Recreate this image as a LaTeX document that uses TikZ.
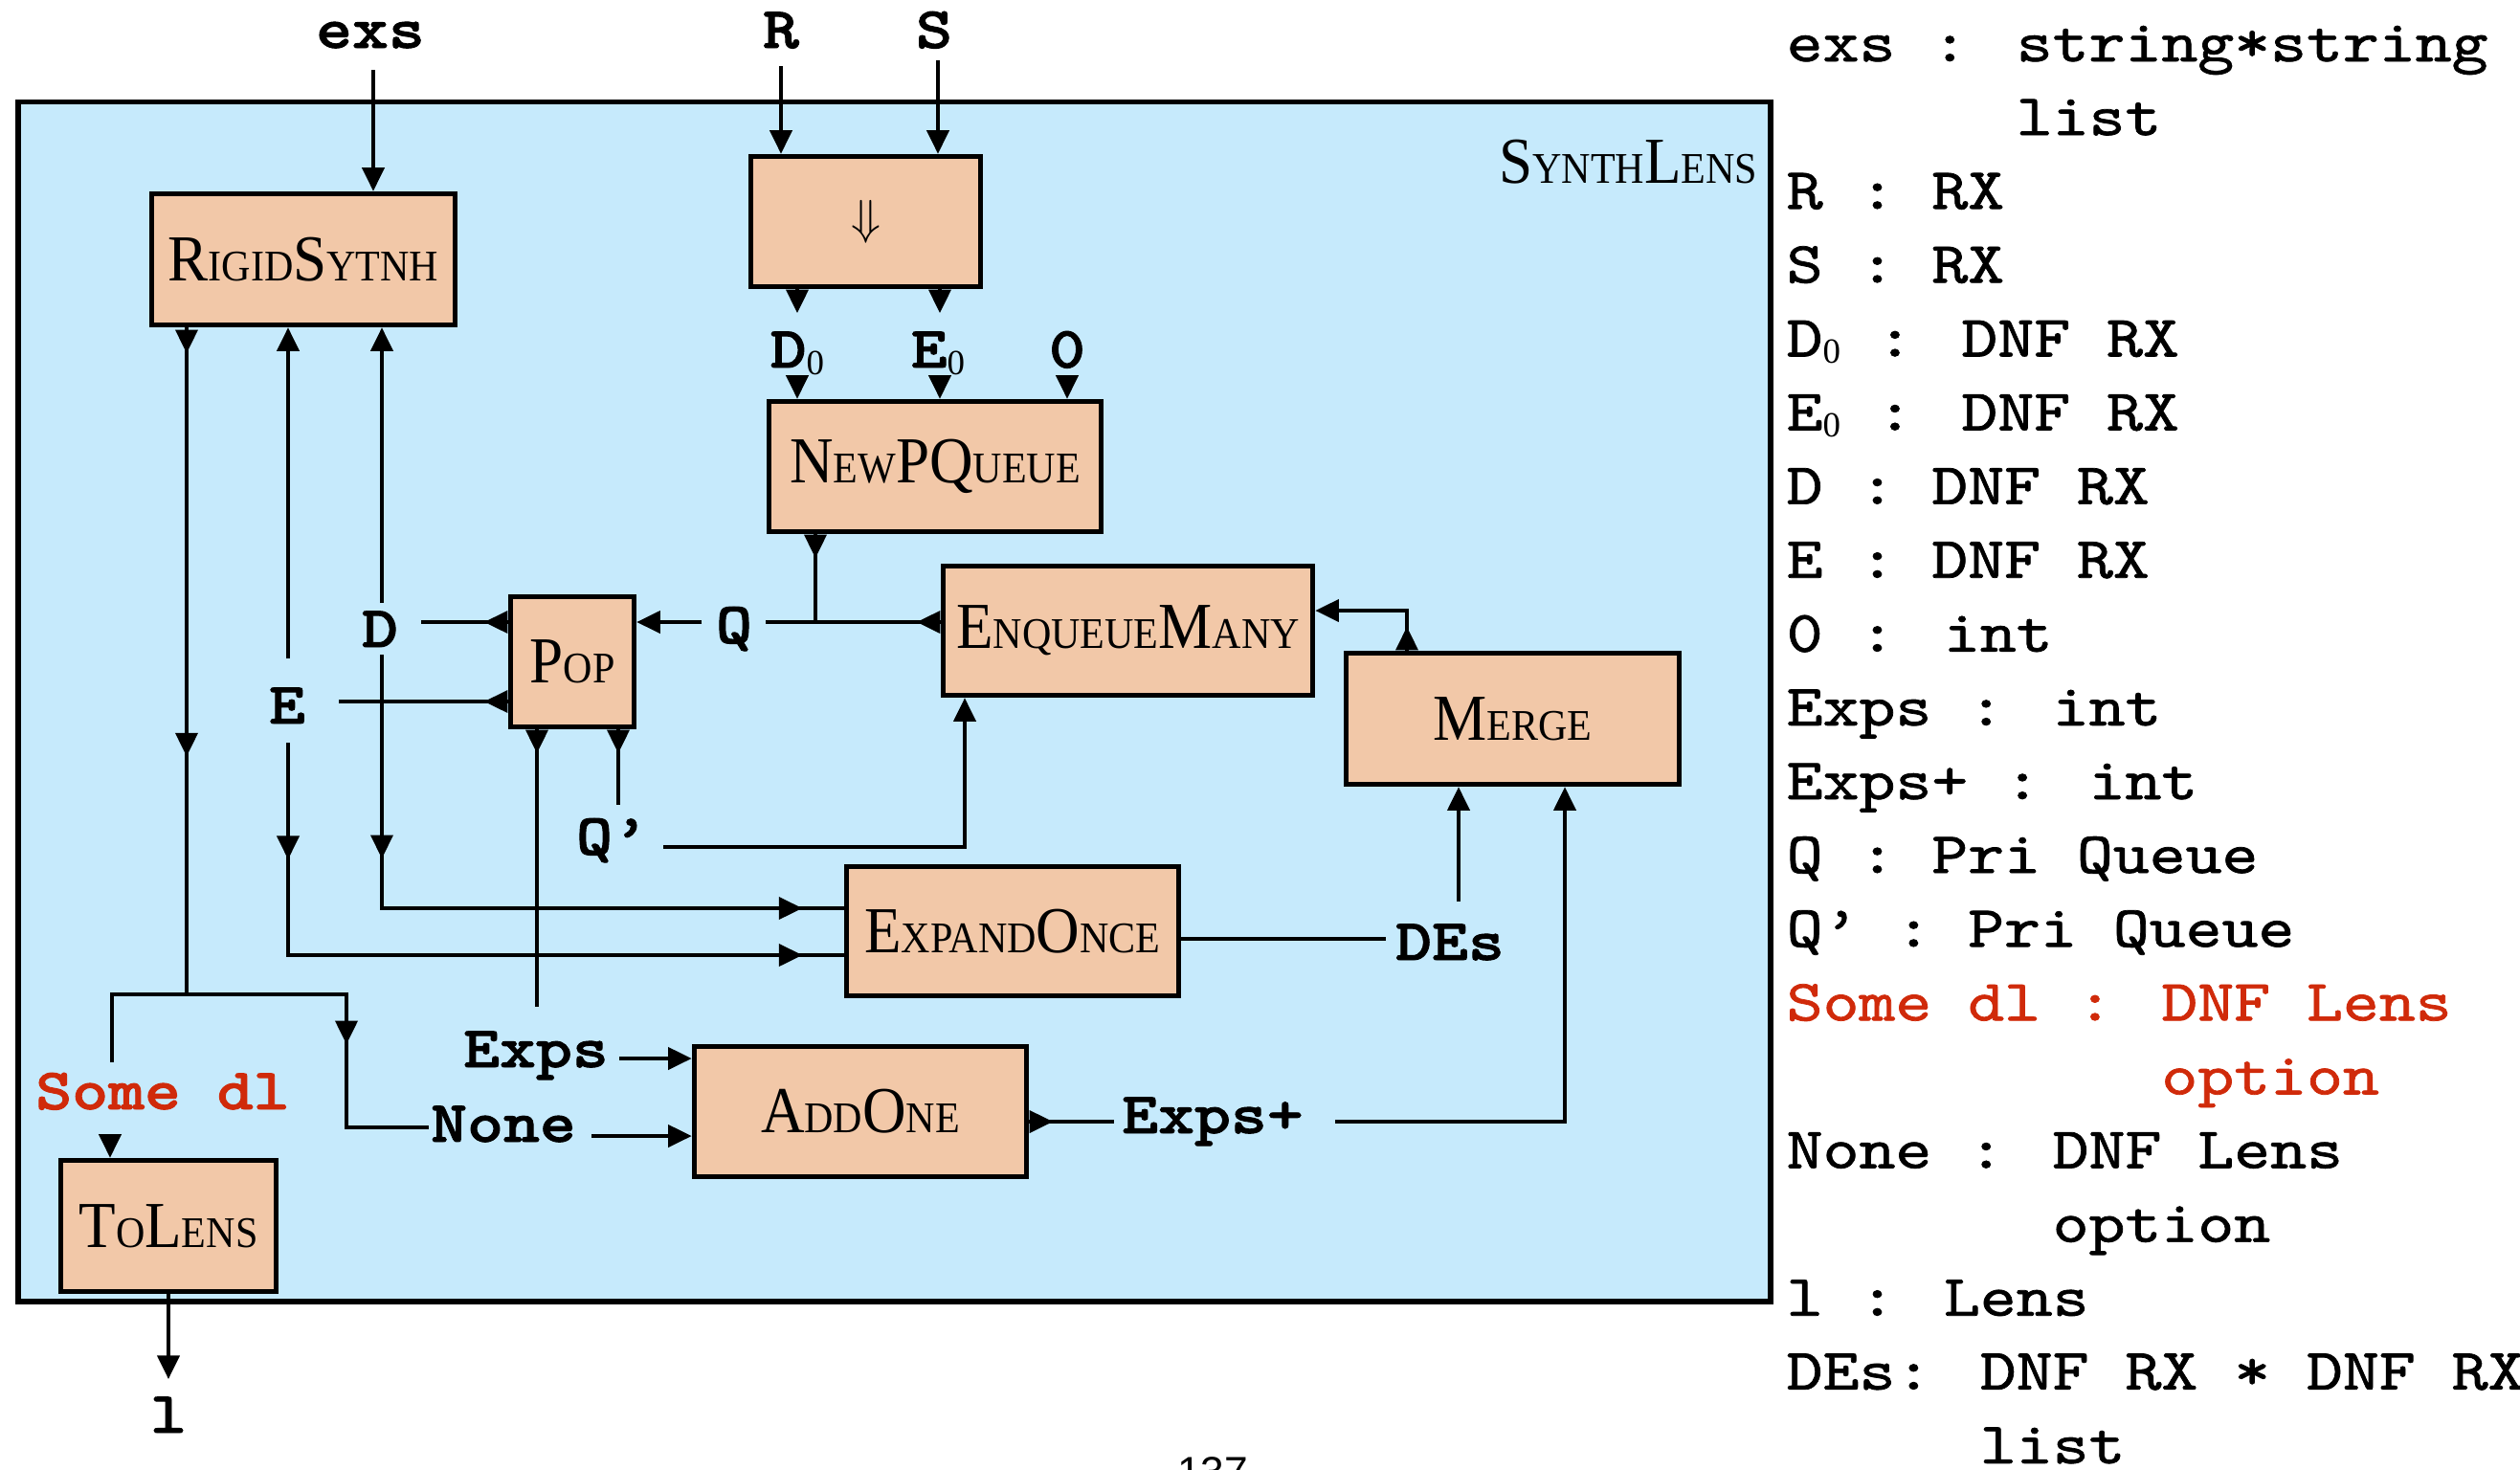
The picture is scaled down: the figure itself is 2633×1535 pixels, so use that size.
\documentclass[tikz,border=0pt]{standalone}
\usepackage{fontspec}
\usetikzlibrary{arrows.meta,decorations.markings,calc}
\newfontfamily\labfam{lmmonolt10-bold}[Extension=.otf, FakeStretch=1.18, FakeBold=1.5]
\newfontfamily\rcolfam{lmmono10-regular}[Extension=.otf, FakeStretch=1.18, FakeBold=1.2]
\newfontfamily\boxfam{Liberation Serif}[FakeStretch=0.92]
\newfontfamily\subfam{Liberation Serif}
\newfontfamily\pgfam{Liberation Sans}
\definecolor{peach}{RGB}{242,200,168}
\definecolor{skyb}{RGB}{198,234,252}
\definecolor{redt}{RGB}{208,42,10}
\newcommand\bigc{\fontsize{19.5}{21}\selectfont}
\newcommand\smallc{\fontsize{13}{14}\selectfont}
\newcommand\mysc[2]{{\bigc #1}{\smallc #2}}
\newcommand\zsub{\raisebox{-2pt}{\subfam\fontsize{10.5}{11}\selectfont 0}}
\begin{document}
\begin{tikzpicture}[x=0.01cm,y=-0.01cm,
  blk/.style={draw=black, line width=1.5pt, fill=peach, inner sep=0pt, font=\boxfam},
  conn/.style={line width=1.2pt, draw=black},
  arr/.style={conn, -{Triangle[length=7pt,width=6.5pt]}},
  lbl/.style={font=\labfam\fontsize{17.4}{20}\selectfont, inner sep=0pt, anchor=base},
  rcol/.style={font=\rcolfam\fontsize{17.4}{20}\selectfont, inner sep=0pt, anchor=base west},
  midarr/.style={postaction={decorate,decoration={markings,mark=at position #1 with {\arrow{Triangle[length=7pt,width=6.5pt]}}}}},
  twoarr/.style 2 args={postaction={decorate,decoration={markings,
     mark=at position #1 with {\arrow{Triangle[length=7pt,width=6.5pt]}},
     mark=at position #2 with {\arrow{Triangle[length=7pt,width=6.5pt]}}}}}
]
\useasboundingbox (0,0) rectangle (2633,1535);
% outer box
\node[draw=black, line width=1.5pt, fill=skyb, minimum width=18.30cm, minimum height=12.53cm, inner sep=0pt] (outer) at (934.5,733) {};
\node[font=\boxfam, anchor=base east, inner sep=0pt] (synth) at (1837,191) {\mysc{S}{YNTH}\mysc{L}{ENS}};
% boxes
\node[blk, minimum width=3.17cm, minimum height=1.37cm] (rs) at (317,271) {\mysc{R}{IGID}\mysc{S}{YTNH}};
\node[blk, minimum width=2.40cm, minimum height=1.36cm] (dn) at (904.5,231.5) {\fontsize{15}{17}\selectfont\raisebox{-0.08cm}{$\Downarrow$}};
\node[blk, minimum width=3.47cm, minimum height=1.36cm] (npq) at (977,487.5) {\mysc{N}{EW}\mysc{PQ}{UEUE}};
\node[blk, minimum width=3.86cm, minimum height=1.35cm] (enq) at (1178.5,659) {\mysc{E}{NQUEUE}\mysc{M}{ANY}};
\node[blk, minimum width=1.29cm, minimum height=1.36cm] (pop) at (598,691.5) {\mysc{P}{OP}};
\node[blk, minimum width=3.48cm, minimum height=1.37cm] (mrg) at (1580.5,751) {\mysc{M}{ERGE}};
\node[blk, minimum width=3.47cm, minimum height=1.35cm] (exo) at (1058,973) {\mysc{E}{XPAND}\mysc{O}{NCE}};
\node[blk, minimum width=3.47cm, minimum height=1.36cm] (add) at (899,1161.5) {\mysc{A}{DD}\mysc{O}{NE}};
\node[blk, minimum width=2.25cm, minimum height=1.37cm] (tol) at (176,1281) {\mysc{T}{O}\mysc{L}{ENS}};
% labels
\node[lbl] (lexs) at (387,50) {exs};
\node[lbl] (lR) at (816,50) {R};
\node[lbl] (lS) at (976,50) {S};
\node[lbl] (lD0) at (833,384) {D\zsub};
\node[lbl] (lE0) at (980,384) {E\zsub};
\node[lbl] (lZ) at (1115,384) {0};
\node[lbl] (lD) at (397,676) {D};
\node[lbl] (lE) at (300,756) {E};
\node[lbl] (lQ) at (767,672) {Q};
\node[lbl] (lQp) at (640,893) {Q’};
\node[lbl] (lExps) at (560,1115) {Exps};
\node[lbl] (lNone) at (526,1193) {None};
\node[lbl, text=redt] (lSome) at (170,1159) {Some dl};
\node[lbl] (lDEs) at (1515,1003) {DEs};
\node[lbl] (lExpp) at (1267,1184) {Exps+};
\node[lbl] (ll) at (176,1497) {l};
\node[font=\pgfam\fontsize{12.6}{14}\selectfont, inner sep=0pt, anchor=base] (pg) at (1267,1553) {137};
% coordinates
\coordinate (exsA) at (390,73);
\coordinate (rA) at (816,69);
\coordinate (sA) at (980,63);
\coordinate (d0t) at (833,392);
\coordinate (e0t) at (982,392);
\coordinate (zt) at (1115,392);
\coordinate (qj) at (852,650);
\coordinate (qL) at (800,650);
\coordinate (qP) at (733,650);
\coordinate (dR) at (440,650);
\coordinate (eR) at (354,733);
\coordinate (dUp) at (399,630);
\coordinate (dDn) at (399,684);
\coordinate (dc) at (399,949);
\coordinate (eUp) at (301,688);
\coordinate (eDn) at (301,776);
\coordinate (ec) at (301,998);
\coordinate (rsj) at (195,1039);
\coordinate (slj) at (117,1039);
\coordinate (slEnd) at (117,1110);
\coordinate (nc) at (362,1039);
\coordinate (ncb) at (362,1178);
\coordinate (nEnd) at (448,1178);
\coordinate (sdA) at (115,1185);
\coordinate (lA) at (176,1441);
\coordinate (expsTop) at (561,1052);
\coordinate (qpTop) at (646,841);
\coordinate (exA) at (647,1106);
\coordinate (noA) at (618,1187);
\coordinate (qpL) at (693,885);
\coordinate (qpc) at (1008,885);
\coordinate (mc) at (1470,638);
\coordinate (deL) at (1448,981);
\coordinate (deA) at (1524,942);
\coordinate (epL) at (1164,1172);
\coordinate (epR) at (1395,1172);
\coordinate (epc) at (1635,1172);
% connectors
\draw[arr] (exsA) -- (rs.north -| exsA);
\draw[arr] (rA) -- (dn.north -| rA);
\draw[arr] (sA) -- (dn.north -| sA);
\draw[arr] (dn.south -| d0t) -- ++(0,25);
\draw[arr] (dn.south -| e0t) -- ++(0,25);
\draw[arr] (d0t) -- (npq.north -| d0t);
\draw[arr] (e0t) -- (npq.north -| e0t);
\draw[arr] (zt) -- (npq.north -| zt);
\draw[conn] (npq.south -| qj) -- (qj);
\draw[arr] (npq.south -| qj) -- ++(0,25);
\draw[conn] (qL) -- (enq.west |- qL);
\draw[arr] (enq.west |- qL) -- ++(-25,0);
\draw[arr] (qP) -- (pop.east |- qP);
\draw[conn] (pop.west |- dR) -- (dR);
\draw[arr] (pop.west |- dR) -- ++(-25,0);
\draw[conn] (pop.west |- eR) -- (eR);
\draw[arr] (pop.west |- eR) -- ++(-25,0);
\draw[arr] (dUp) -- (rs.south -| dUp);
\draw[arr] (eUp) -- (rs.south -| eUp);
\draw[conn, twoarr={2.13cm}{7.04cm}] (dDn) -- (dc) -- (exo.west |- dc);
\draw[conn, twoarr={1.22cm}{7.59cm}] (eDn) -- (ec) -- (exo.west |- ec);
\draw[conn, midarr=4.48cm] (rs.south -| rsj) -- (rsj);
\draw[arr] (rs.south -| rsj) -- ++(0,27);
\draw[conn, midarr=3.68cm] (slEnd) -- (slj) -- (nc) -- (ncb) -- (nEnd);
\draw[arr] (sdA) -- (tol.north -| sdA);
\draw[arr] (tol.south -| lA) -- (lA);
\draw[conn] (pop.south -| expsTop) -- (expsTop);
\draw[arr] (pop.south -| expsTop) -- ++(0,25);
\draw[conn] (pop.south -| qpTop) -- (qpTop);
\draw[arr] (pop.south -| qpTop) -- ++(0,25);
\draw[arr] (exA) -- (add.west |- exA);
\draw[arr] (noA) -- (add.west |- noA);
\draw[arr] (qpL) -- (qpc) -- (enq.south -| qpc);
\draw[arr] (mrg.north -| mc) -- (mc) -- (enq.east |- mc);
\draw[arr] (mrg.north -| mc) -- ++(0,-25);
\draw[conn] (exo.east |- deL) -- (deL);
\draw[arr] (deA) -- (mrg.south -| deA);
\draw[conn] (add.east |- epL) -- (epL);
\draw[arr] (add.east |- epL) -- ++(25,0);
\draw[arr] (epR) -- (epc) -- (mrg.south -| epc);
% right column
\node[rcol] (t1) at (1866,64) {exs : string*string};
\node[rcol] (t2) at (1866,141.1) {\phantom{exs : }list};
\node[rcol] (t3) at (1866,218.2) {R : RX};
\node[rcol] (t4) at (1866,295.3) {S : RX};
\node[rcol] (t5) at (1866,372.4) {D\zsub{} : DNF RX};
\node[rcol] (t6) at (1866,449.5) {E\zsub{} : DNF RX};
\node[rcol] (t7) at (1866,526.6) {D : DNF RX};
\node[rcol] (t8) at (1866,603.7) {E : DNF RX};
\node[rcol] (t9) at (1866,680.8) {0 : int};
\node[rcol] (t10) at (1866,757.9) {Exps : int};
\node[rcol] (t11) at (1866,835) {Exps+ : int};
\node[rcol] (t12) at (1866,912.1) {Q : Pri Queue};
\node[rcol] (t13) at (1866,989.2) {Q’ : Pri Queue};
\node[rcol, text=redt] (t14) at (1866,1066.3) {Some dl : DNF Lens};
\node[rcol, text=redt] (t15) at (1866,1143.4) {\phantom{Some dl : }option};
\node[rcol] (t16) at (1866,1220.5) {None : DNF Lens};
\node[rcol] (t17) at (1866,1297.6) {\phantom{None : }option};
\node[rcol] (t18) at (1866,1374.7) {l : Lens};
\node[rcol] (t19) at (1866,1451.8) {DEs: DNF RX * DNF RX};
\node[rcol] (t20) at (1866,1528.9) {\phantom{DEs: }list};
\end{tikzpicture}
\end{document}
